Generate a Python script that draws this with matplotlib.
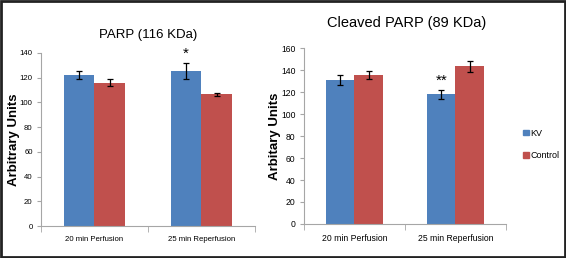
import matplotlib
matplotlib.use("Agg")
import matplotlib.pyplot as plt
from matplotlib.patches import Rectangle, Patch
import numpy as np

plt.rcParams['font.family'] = ['Liberation Sans', 'DejaVu Sans']

grupos = ["20 min Perfusion", "25 min Reperfusion"]
series = ["KV", "Control"]

parp_kv = [122, 125]
parp_kv_err = [3.5, 6.5]
parp_ctrl = [116, 106.5]
parp_ctrl_err = [2.8, 1.0]

cleaved_kv = [131, 118]
cleaved_kv_err = [4.5, 4.0]
cleaved_ctrl = [135.5, 143.5]
cleaved_ctrl_err = [3.5, 5.0]

AZUL = "#4F81BD"
ROJO = "#C0504D"
GRIS = "#A6A6A6"


def panel(ax, kv, kv_err, ctrl, ctrl_err, ymax, ancho, xsize, ylabel, ylx):
    x = np.arange(len(grupos))
    ax.bar(x - ancho / 2, kv, ancho, color=AZUL, yerr=kv_err,
           error_kw=dict(ecolor="black", elinewidth=0.9, capsize=2, capthick=0.9))
    ax.bar(x + ancho / 2, ctrl, ancho, color=ROJO, yerr=ctrl_err,
           error_kw=dict(ecolor="black", elinewidth=0.9, capsize=2, capthick=0.9))
    ax.set_xlim(-0.5, len(grupos) - 0.5)
    ax.set_ylim(0, ymax)
    ax.set_yticks(np.arange(0, ymax + 1, 20))
    ax.set_xticks(x)
    ax.set_xticklabels(grupos, fontsize=xsize)
    ax.set_xticks(np.arange(-0.5, len(grupos)), minor=True)
    ax.tick_params(axis="x", which="major", length=0, pad=7)
    ax.tick_params(axis="x", which="minor", length=4, color=GRIS, direction="out")
    ax.tick_params(axis="y", length=3, color=GRIS, labelsize=xsize, pad=3)
    for s in ["top", "right"]:
        ax.spines[s].set_visible(False)
    for s in ["left", "bottom"]:
        ax.spines[s].set_color(GRIS)
        ax.spines[s].set_linewidth(0.8)
    ax.set_ylabel(ylabel, fontsize=9.5, fontweight="bold")
    ax.yaxis.set_label_coords(ylx, 0.5)


fig = plt.figure(figsize=(5.66, 2.58), dpi=100)

ax1 = fig.add_axes([0.0724, 0.124, 0.378, 0.671])
panel(ax1, parp_kv, parp_kv_err, parp_ctrl, parp_ctrl_err, 140, 0.285,
      5.6, "Arbitrary Units", -0.1)
ax1.text(1 - 0.285 / 2, parp_kv[1] + parp_kv_err[1] + 2, "*", ha="center",
         va="bottom", fontsize=11)
fig.text(148 / 566, 1 - 35 / 258, "PARP (116 KDa)", ha="center", va="center", fontsize=9.5)

ax2 = fig.add_axes([0.537, 0.132, 0.357, 0.681])
panel(ax2, cleaved_kv, cleaved_kv_err, cleaved_ctrl, cleaved_ctrl_err, 160, 0.28,
      6.2, "Arbitary Units", -0.114)
ax2.text(1 - 0.28 / 2, cleaved_kv[1] + cleaved_kv_err[1] + 2, "**", ha="center",
         va="bottom", fontsize=11)
fig.text(407 / 566, 1 - 23 / 258, "Cleaved PARP (89 KDa)", ha="center", va="center",
         fontsize=10.5)

fig.legend(handles=[Patch(color=AZUL, label=series[0]), Patch(color=ROJO, label=series[1])],
           loc="center left", bbox_to_anchor=(0.918, 0.44), frameon=False,
           fontsize=6.5, handlelength=0.6, handleheight=0.6, handletextpad=0.2,
           labelspacing=1.5, borderaxespad=0)

fig.patches.append(Rectangle((0.002, 0.004), 0.996, 0.992, transform=fig.transFigure,
                             fill=False, edgecolor="#222222", linewidth=2))

fig.savefig("out.png", dpi=100)
